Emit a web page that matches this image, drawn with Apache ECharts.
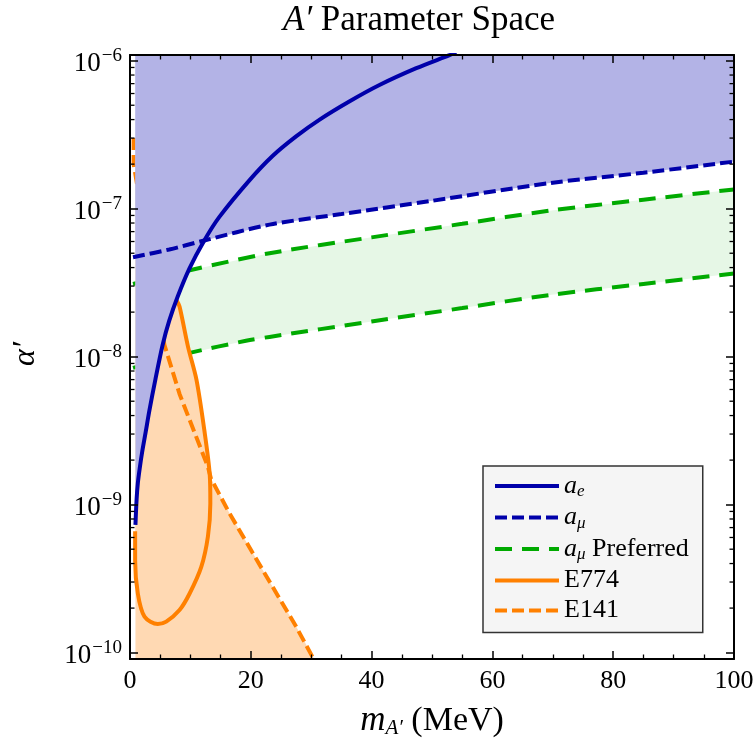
<!DOCTYPE html>
<html>
<head>
<meta charset="utf-8">
<script src="https://cdn.jsdelivr.net/npm/echarts@6/dist/echarts.min.js"></script>
<style>
  html, body { margin: 0; padding: 0; background: #fff; }
  #chart { width: 756px; height: 743px; }
</style>
</head>
<body>
<div id="chart"></div>
<script>
// Axis ranges: mass in MeV, coupling alpha' on a log scale
const X_MIN = 0, X_MAX = 100;
const Y_MIN = Math.pow(10, -10.043);
const Y_MAX = Math.pow(10, -5.9615);
const yDecades = [-10, -9, -8, -7, -6];
const FILL_X0 = 0.9;   // shaded regions start at this mass

// Electron g-2 bound [mass, alpha']
const aeCurve = [
  [0.9, 7.3e-10], [1.1, 1.1e-9], [1.3, 1.4e-9], [1.6, 1.75e-9], [2.0, 2.25e-9],
  [2.6, 3.1e-9], [3.2, 4.3e-9], [4.2, 7.0e-9], [5.4, 1.2e-8], [6.5, 1.75e-8],
  [7.9, 2.55e-8], [9.85, 3.95e-8], [12.3, 6.1e-8], [14.8, 8.8e-8], [19.8, 1.56e-7],
  [23.6, 2.27e-7], [27.5, 3.08e-7], [31.4, 4.0e-7], [36.3, 5.3e-7], [41.3, 6.85e-7],
  [47.4, 8.9e-7], [52.9, 1.09e-6], [54.0, 1.14e-6]
];

// Muon g-2 bound
const amuCurve = [
  [0.5, 4.7e-8], [6.5, 5.3e-8], [12.3, 6.1e-8], [23.1, 7.8e-8], [35, 9.2e-8],
  [50, 1.13e-7], [69.5, 1.49e-7], [85, 1.75e-7], [100, 2.08e-7]
];

// Muon g-2 preferred band, upper and lower edges
const amuPrefUpper = [
  [0.5, 3.1e-8], [9.9, 3.84e-8], [23.1, 5.0e-8], [40, 6.4e-8], [55, 7.9e-8],
  [69.5, 9.7e-8], [85, 1.15e-7], [100, 1.35e-7]
];
const amuPrefLower = [
  [0.5, 8.4e-9], [9.9, 1.06e-8], [19.2, 1.28e-8], [23.1, 1.36e-8], [40, 1.73e-8],
  [55, 2.13e-8], [69.5, 2.61e-8], [85, 3.1e-8], [100, 3.65e-8]
];

// E774 beam-dump exclusion contour
const e774Curve = [
  [0.85, 6.6e-10], [0.85, 4.2e-10], [1.3, 2.5e-10], [2.4, 1.75e-10], [4.6, 1.56e-10],
  [6.0, 1.62e-10], [8.2, 1.94e-10], [9.85, 2.5e-10], [11.8, 3.8e-10], [12.9, 6.1e-10],
  [13.3, 1.02e-9], [13.2, 1.6e-9], [12.3, 3.2e-9], [11.0, 7.0e-9], [9.6, 1.17e-8],
  [8.2, 2.18e-8], [7.7, 2.4e-8]
];

// E141 beam-dump exclusion contour
const e141Curve = [
  [0.6, 3.0e-7], [0.6, 2.0e-7], [5.7, 1.2e-8], [8.2, 5.6e-9], [12.9, 1.8e-9],
  [13.4, 1.5e-9], [16.5, 8.7e-10], [22.0, 3.6e-10], [27.5, 1.5e-10], [30.5, 8.9e-11]
];

const SERIF = 'Liberation Serif';
const BLUE = '#0000aa', GREEN = '#00aa00', ORANGE = '#ff8000';
const BLUE_FILL = '#b3b3e6', GREEN_FILL = '#e6f7e6', ORANGE_FILL = '#ffd9b3';
const SHORT_DASH = [12, 5], LONG_DASH = [17, 10];
const LINE_W = 4;

// keep shaded polygons inside the frame
const clampPt = p => [Math.max(p[0], FILL_X0), Math.min(Math.max(p[1], Y_MIN), Y_MAX)];

function fillSeries(color, z, ringsFn) {
  return {
    type: 'custom',
    silent: true,
    animation: false,
    z: z,
    data: [[X_MIN, Y_MIN]],
    renderItem: (params, api) => ({
      type: 'group',
      children: ringsFn().map(ring => ({
        type: 'polygon',
        shape: { points: ring.map(p => api.coord(clampPt(p))) },
        style: { fill: color }
      }))
    })
  };
}

function lineSeries(name, data, color, dash, z, smooth) {
  return {
    name: name,
    type: 'line',
    z: z,
    data: data,
    symbol: 'none',
    showSymbol: false,
    smooth: smooth || false,
    clip: true,
    animation: false,
    lineStyle: { color: color, width: LINE_W, type: dash || 'solid' },
    itemStyle: { color: color },
    emphasis: { disabled: true }
  };
}

// minor ticks for the log axis at 2..9 × each decade
const minorTickVals = [];
for (let d = -11; d <= -6; d++) {
  for (let k = 2; k <= 9; k++) {
    const v = k * Math.pow(10, d);
    if (v > Y_MIN && v < Y_MAX) minorTickVals.push([X_MIN, v]);
  }
}

const legendText = {
  'ae': '{i|a}{sub|e}',
  'aμ': '{i|a}{sub|μ}',
  'aμ Preferred': '{i|a}{sub|μ}{n| Preferred}',
  'E774': '{n|E774}',
  'E141': '{n|E141}'
};

const frameAxis = {
  axisLine: { show: true, onZero: false, lineStyle: { color: '#000', width: 2 } },
  axisTick: { show: true, inside: true, length: 8, lineStyle: { color: '#000', width: 1.5 } },
  splitLine: { show: false },
  z: 50
};

const option = {
  animation: false,
  backgroundColor: '#fff',
  graphic: [{
    type: 'text',
    x: 419, y: 3,
    style: {
      text: '{i|A′}{n| Parameter Space}',
      align: 'center',
      rich: {
        i: { fontFamily: SERIF, fontSize: 35, fontStyle: 'italic', fill: '#000' },
        n: { fontFamily: SERIF, fontSize: 35, fill: '#000' }
      }
    }
  }],
  grid: { left: 130, top: 55, width: 604, height: 604, containLabel: false, outerBoundsMode: 'none' },
  legend: {
    orient: 'vertical',
    left: 483, top: 466,
    itemWidth: 64, itemHeight: 14, itemGap: 4,
    padding: [7, 14, 9, 10],
    backgroundColor: '#f5f5f5',
    borderColor: '#333',
    borderWidth: 1.5,
    borderRadius: 0,
    selectedMode: false,
    itemStyle: { opacity: 0, color: 'rgba(0,0,0,0)', borderWidth: 0 },
    data: [
      { name: 'ae', lineStyle: { type: 'solid', width: LINE_W } },
      { name: 'aμ', lineStyle: { type: SHORT_DASH, width: LINE_W } },
      { name: 'aμ Preferred', lineStyle: { type: LONG_DASH, width: LINE_W } },
      { name: 'E774', lineStyle: { type: 'solid', width: LINE_W } },
      { name: 'E141', lineStyle: { type: SHORT_DASH, width: LINE_W } }
    ],
    formatter: name => legendText[name],
    textStyle: {
      fontFamily: SERIF, fontSize: 26, color: '#000',
      rich: {
        i: { fontFamily: SERIF, fontSize: 26, fontStyle: 'italic', color: '#000' },
        sub: { fontFamily: SERIF, fontSize: 17, fontStyle: 'italic', color: '#000', padding: [12, 0, 0, 0] },
        n: { fontFamily: SERIF, fontSize: 26, color: '#000' }
      }
    }
  },
  xAxis: [Object.assign({}, frameAxis, {
    type: 'value', min: X_MIN, max: X_MAX, interval: 20, position: 'bottom',
    minorTick: { show: true, splitNumber: 4, length: 4.5, lineStyle: { color: '#000', width: 1.3 } },
    axisLabel: { fontFamily: SERIF, fontSize: 26, color: '#000', margin: 9 },
    name: '{m|m}{s|A′}{n| (MeV)}',
    nameLocation: 'middle', nameGap: 44,
    nameTextStyle: {
      fontFamily: SERIF, fontSize: 34, color: '#000',
      rich: {
        m: { fontFamily: SERIF, fontSize: 35, fontStyle: 'italic', color: '#000' },
        s: { fontFamily: SERIF, fontSize: 21, fontStyle: 'italic', color: '#000', padding: [15, 0, 0, 0] },
        n: { fontFamily: SERIF, fontSize: 34, color: '#000' }
      }
    }
  }), Object.assign({}, frameAxis, {
    type: 'value', min: X_MIN, max: X_MAX, interval: 20, position: 'top',
    minorTick: { show: true, splitNumber: 4, length: 4.5, lineStyle: { color: '#000', width: 1.3 } },
    axisLabel: { show: false }
  })],
  yAxis: [Object.assign({}, frameAxis, {
    type: 'log', logBase: 10, min: Y_MIN, max: Y_MAX, position: 'left',
    minorTick: { show: false },
    axisLabel: {
      margin: 8,
      formatter: v => {
        const lg = Math.log10(v), e = Math.round(lg);
        if (Math.abs(lg - e) > 1e-6 || yDecades.indexOf(e) < 0) return '';
        return '{b|10}{s|−' + (-e) + '}';
      },
      rich: {
        b: { fontFamily: SERIF, fontSize: 27, color: '#000', padding: [6, 0, 0, 0] },
        s: { fontFamily: SERIF, fontSize: 19, color: '#000', padding: [0, 0, 9, 1] }
      }
    },
    name: '{a|α′}',
    nameLocation: 'middle', nameRotate: 90, nameGap: 88,
    nameTextStyle: {
      rich: { a: { fontFamily: SERIF, fontSize: 32, fontStyle: 'italic', color: '#000', padding: [0, 0, 0, 6] } }
    }
  }), Object.assign({}, frameAxis, {
    type: 'log', logBase: 10, min: Y_MIN, max: Y_MAX, position: 'right',
    axisLabel: { show: false }
  })],
  series: [
    // light green preferred band
    fillSeries(GREEN_FILL, 1, () => [amuPrefUpper.concat(amuPrefLower.slice().reverse())]),
    lineSeries('aμ Preferred', amuPrefUpper, GREEN, LONG_DASH, 2, 0.3),
    lineSeries('aμ Preferred', amuPrefLower, GREEN, LONG_DASH, 2, 0.3),
    // beam-dump excluded region (union of E774 loop and region under E141)
    fillSeries(ORANGE_FILL, 3, () => {
      const topX = e774Curve[e774Curve.length - 1][0];
      const aeBelow = aeCurve.filter(p => p[0] < topX).reverse();
      const last141 = e141Curve[e141Curve.length - 1];
      return [
        e774Curve.concat(aeBelow),
        e141Curve.concat([[last141[0], Y_MIN], [FILL_X0, Y_MIN]])
      ];
    }),
    lineSeries('E141', e141Curve, ORANGE, SHORT_DASH, 4, false),
    lineSeries('E774', e774Curve, ORANGE, 'solid', 5, 0.3),
    // g-2 excluded region (above either bound)
    fillSeries(BLUE_FILL, 6, () => {
      const aeLast = aeCurve[aeCurve.length - 1];
      return [
        aeCurve.concat([[aeLast[0], Y_MAX], [FILL_X0, Y_MAX]]),
        amuCurve.concat([[X_MAX, Y_MAX], [FILL_X0, Y_MAX]])
      ];
    }),
    lineSeries('aμ', amuCurve, BLUE, SHORT_DASH, 7, 0.3),
    lineSeries('ae', aeCurve, BLUE, 'solid', 8, 0.3),
    // log minor ticks on left and right frame edges
    {
      type: 'custom',
      silent: true,
      animation: false,
      z: 51,
      data: minorTickVals,
      renderItem: (params, api) => {
        const v = api.value(1);
        const a = api.coord([X_MIN, v]);
        const b = api.coord([X_MAX, v]);
        const st = { stroke: '#000', lineWidth: 1.3 };
        return {
          type: 'group',
          children: [
            { type: 'line', shape: { x1: a[0], y1: a[1], x2: a[0] + 4.5, y2: a[1] }, style: st },
            { type: 'line', shape: { x1: b[0] - 4.5, y1: b[1], x2: b[0], y2: b[1] }, style: st }
          ]
        };
      }
    }
  ]
};

const chart = echarts.init(document.getElementById('chart'), null, { renderer: 'canvas' });
chart.setOption(option);
</script>
</body>
</html>
